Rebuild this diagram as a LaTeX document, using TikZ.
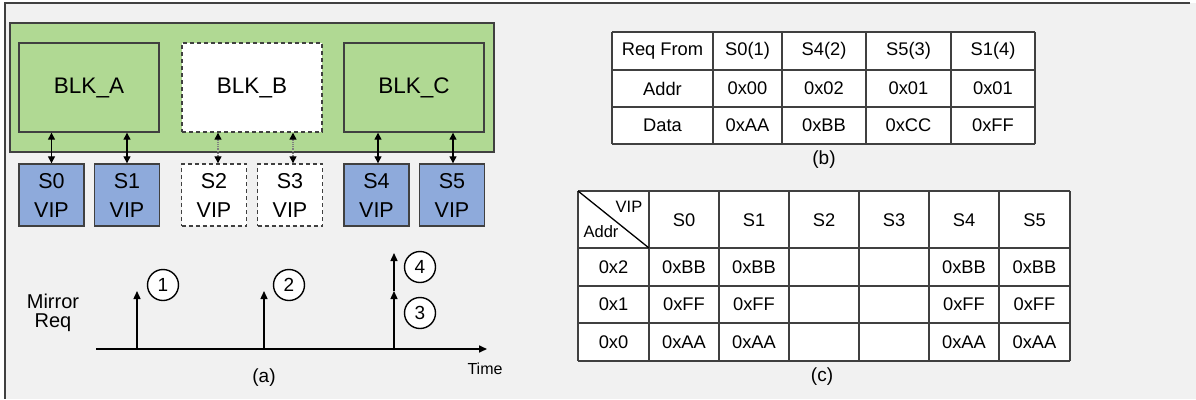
\documentclass[tikz,border=0pt]{standalone}
\usepackage{fontspec}
\setmainfont{Liberation Sans}
\usetikzlibrary{arrows.meta}
\definecolor{panelbg}{HTML}{F1F1F1}
\definecolor{blkgreen}{HTML}{B0D993}
\definecolor{vipblue}{HTML}{8EAADB}
\definecolor{edgegray}{HTML}{404040}
\tikzset{
  tip/.style={-{Triangle[length=8pt,width=7pt]}},
  both/.style={{Triangle[length=7pt,width=7pt]}-{Triangle[length=7pt,width=7pt]}},
  bothdot/.style={{Triangle[length=7pt,width=7pt,black]}-{Triangle[length=7pt,width=7pt,black]},
    draw=gray, densely dotted},
  blkbox/.style={draw=edgegray, line width=1.4pt, fill=blkgreen, inner sep=0pt,
    minimum width=140pt, minimum height=89pt, font={\fontsize{22.5}{22.5}\selectfont}},
  vipbox/.style={draw=edgegray, line width=1.4pt, fill=vipblue, inner sep=0pt,
    minimum width=65pt, minimum height=62pt, align=center,
    font={\fontsize{21.5}{29}\selectfont}},
  ghost/.style={fill=white, dash pattern=on 4pt off 3pt},
  numcirc/.style={circle, draw=black, line width=1.4pt, fill=white, minimum size=31pt,
    inner sep=0pt, font={\fontsize{19}{19}\selectfont}},
  cell/.style={inner sep=0pt, font={\fontsize{18.3}{18.3}\selectfont}},
  grid/.style={draw=edgegray, line width=1.5pt},
  caption/.style={inner sep=0pt, font={\fontsize{19}{19}\selectfont}},
}
\begin{document}
\begin{tikzpicture}[x=1pt,y=-1pt]
\useasboundingbox (0,0) rectangle (1196,399);
\fill[white] (0,0) rectangle (1196,399);
\fill[panelbg] (5,3) rectangle (1196,399);
\draw[line width=2pt, edgegray] (1190,3) -- (5,3) -- (5,399);

% ---------- (a) system blocks ----------
\node[draw=edgegray, line width=1.4pt, fill=blkgreen, minimum width=484pt,
      minimum height=129pt, inner sep=0pt] (sys) at (252,87.5) {};
\node[blkbox] (blka) at (89,87.5) {BLK\_A};
\node[blkbox, ghost] (blkb) at (252,87.5) {BLK\_B};
\node[blkbox] (blkc) at (414,87.5) {BLK\_C};

\node[vipbox] (s0) at (51.5,195) {S0\\VIP};
\node[vipbox] (s1) at (127,195) {S1\\VIP};
\node[vipbox, ghost] (s2) at (214,195) {S2\\VIP};
\node[vipbox, ghost] (s3) at (290,195) {S3\\VIP};
\node[vipbox] (s4) at (376.5,195) {S4\\VIP};
\node[vipbox] (s5) at (452,195) {S5\\VIP};

\draw[both, line width=1.3pt] (s0.north) -- (s0.north |- blka.south);
\draw[both, line width=1.3pt] (s1.north) -- (s1.north |- blka.south);
\draw[bothdot, line width=1.3pt] ([xshift=4pt]s2.north) -- ([xshift=4pt]s2.north |- blkb.south);
\draw[bothdot, line width=1.3pt] ([xshift=3pt]s3.north) -- ([xshift=3pt]s3.north |- blkb.south);
\draw[both, line width=1.3pt] ([xshift=1.5pt]s4.north) -- ([xshift=1.5pt]s4.north |- blkc.south);
\draw[both, line width=1.3pt] ([xshift=1pt]s5.north) -- ([xshift=1pt]s5.north |- blkc.south);

% ---------- (a) mirror request timeline ----------
\node[align=center, inner sep=0pt, font={\fontsize{20}{19}\selectfont}] (mreq) at (53,313) {Mirror\\Req};
\coordinate (t0) at (96,349);
\coordinate (tend) at (487,349);
\draw[tip, line width=1.6pt] (t0) -- (tend);
\node[inner sep=0pt, font={\fontsize{16}{16}\selectfont}] (time) at (485,369) {Time};

\coordinate (p1) at (137,349);
\coordinate (p1top) at (137,291);
\coordinate (p2) at (264,349);
\coordinate (p2top) at (264,291);
\coordinate (p3) at (394,349);
\coordinate (p3top) at (394,291);
\coordinate (p4top) at (394,253);
\draw[tip, line width=1.4pt] (p1) -- (p1top);
\draw[tip, line width=1.4pt] (p2) -- (p2top);
\draw[tip, line width=1.4pt] (p3) -- (p3top);
\draw[tip, line width=1.4pt] (p3top) -- (p4top);

\node[numcirc] (c1) at (163,285) {1};
\node[numcirc] (c2) at (289,285) {2};
\node[numcirc] (c3) at (420,313) {3};
\node[numcirc] (c4) at (420,267) {4};

\node[caption] (capa) at (264,378) {(a)};

% ---------- (b) request table ----------
\fill[white] (612,32) rectangle (1035,144);
\foreach \x in {612,713,782,866,951,1035} \draw[grid] (\x,32) -- (\x,144);
\foreach \y in {32,70,107,144} \draw[grid] (612,\y) -- (1035,\y);
\foreach \txt [count=\i] in {Req From,S0(1),S4(2),S5(3),S1(4)} {
  \pgfmathsetmacro{\cx}{{662.5,747.5,824,908.5,993}[\i-1]}
  \node[cell] (rb1c\i) at (\cx,51) {\txt};
}
\foreach \txt [count=\i] in {Addr,0x00,0x02,0x01,0x01} {
  \pgfmathsetmacro{\cx}{{662.5,747.5,824,908.5,993}[\i-1]}
  \node[cell] (rb2c\i) at (\cx,88.5) {\txt};
}
\foreach \txt [count=\i] in {Data,0xAA,0xBB,0xCC,0xFF} {
  \pgfmathsetmacro{\cx}{{662.5,747.5,824,908.5,993}[\i-1]}
  \node[cell] (rb3c\i) at (\cx,125.5) {\txt};
}
\node[caption] (capb) at (824,160) {(b)};

% ---------- (c) mirrored memory table ----------
\fill[white] (578,191) rectangle (1070,361);
\foreach \x in {578,649,719,789,859,929,999,1070} \draw[grid] (\x,191) -- (\x,361);
\foreach \y in {191,248,286,323,361} \draw[grid] (578,\y) -- (1070,\y);
\draw[line width=1.3pt] (578,191) -- (649,248);
\node[inner sep=0pt, font={\fontsize{16.5}{16.5}\selectfont}] (hvip) at (629,207) {VIP};
\node[inner sep=0pt, font={\fontsize{16.5}{16.5}\selectfont}] (haddr) at (601,232) {Addr};
\foreach \txt [count=\i] in {S0,S1,S2,S3,S4,S5} {
  \pgfmathsetmacro{\cx}{{684,754,824,894,964,1034.5}[\i-1]}
  \node[cell] (hc\i) at (\cx,220) {\txt};
}
\foreach \r/\yy/\a/\d in {2/267/0x2/0xBB, 1/304.5/0x1/0xFF, 0/342/0x0/0xAA} {
  \node[cell] (addr\r) at (613.5,\yy) {\a};
  \node[cell] (v\r s0) at (684,\yy) {\d};
  \node[cell] (v\r s1) at (754,\yy) {\d};
  \node[cell] (v\r s4) at (964,\yy) {\d};
  \node[cell] (v\r s5) at (1034.5,\yy) {\d};
}
\node[caption] (capc) at (822,377) {(c)};
\end{tikzpicture}
\end{document}
